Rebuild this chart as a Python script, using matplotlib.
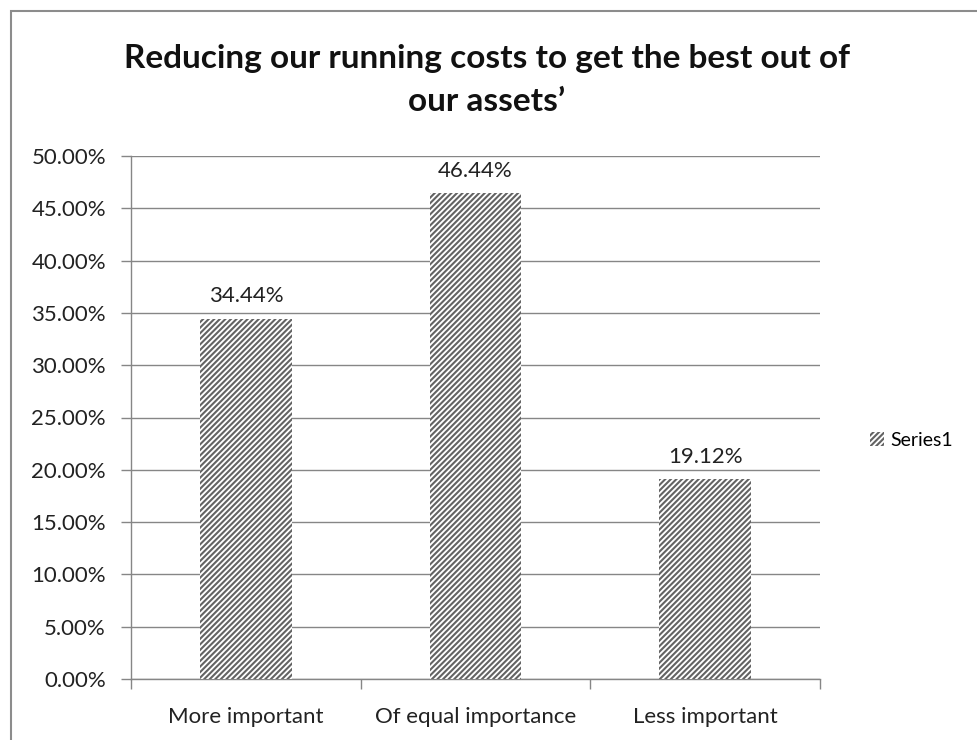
import matplotlib
matplotlib.use("Agg")
import matplotlib.pyplot as plt
from matplotlib.patches import Rectangle, Patch
from matplotlib.ticker import FuncFormatter, MultipleLocator, FixedLocator, NullFormatter

categories = ["More important", "Of equal importance", "Less important"]
values = [34.44, 46.44, 19.12]
series_name = "Series1"
title = "Reducing our running costs to get the best out of\nour assets\u2019"

plt.rcParams["font.family"] = ["Lato", "DejaVu Sans"]
plt.rcParams["hatch.linewidth"] = 1.5

W, H = 978, 740
fig = plt.figure(figsize=(W / 100, H / 100), dpi=100)
ax = fig.add_axes([131 / W, 1 - 679 / H, (820 - 131) / W, (679 - 156) / H])

grey = "#868686"
hatch_col = "#636363"
text_col = "#222222"
x = list(range(len(categories)))
ax.bar(x, values, width=0.4, color="white", edgecolor=hatch_col,
       linewidth=0, hatch="//////", zorder=3)

for xi, v in zip(x, values):
    ax.annotate(f"{v:.2f}%", (xi, v), xytext=(0, 9), textcoords="offset points",
                ha="center", va="bottom", fontsize=16, color=text_col)

ax.set_xlim(-0.5, len(categories) - 0.5)
ax.set_ylim(0, 50)
ax.yaxis.set_major_locator(MultipleLocator(5))
ax.yaxis.set_major_formatter(FuncFormatter(lambda v, p: f"{v:.2f}%"))
ax.grid(axis="y", color=grey, linewidth=1, zorder=0)

ax.xaxis.set_major_locator(FixedLocator([i - 0.5 for i in range(len(categories) + 1)]))
ax.xaxis.set_major_formatter(NullFormatter())
ax.set_xticks(x, categories, minor=True)
ax.tick_params(axis="x", which="minor", length=0, pad=20, labelsize=16, labelcolor=text_col)
ax.tick_params(axis="x", which="major", length=7, width=1, color=grey, direction="out")
ax.tick_params(axis="y", length=7, width=1, color=grey, labelsize=16,
               labelcolor=text_col, pad=11)

for s in ["top", "right"]:
    ax.spines[s].set_visible(False)
for s in ["left", "bottom"]:
    ax.spines[s].set_color(grey)
    ax.spines[s].set_linewidth(1)

fig.text(487 / W, 1 - 80 / H, title, ha="center", va="center", fontsize=24,
         fontweight="bold", linespacing=1.55, color="#111111")

fig.legend([Patch(facecolor="white", edgecolor=hatch_col, hatch="//////", linewidth=0)],
           [series_name], loc="center left", bbox_to_anchor=(860 / W, 1 - 440 / H),
           frameon=False, fontsize=14, handlelength=0.75, handleheight=0.75,
           handletextpad=0.3, borderpad=0)

fig.patches.append(Rectangle((11 / W, -0.05), 1.2, 1 - 11 / H + 0.05,
                             transform=fig.transFigure, fill=False,
                             edgecolor="#8c8c8c", linewidth=1.5))

fig.savefig("out.png", dpi=100)
